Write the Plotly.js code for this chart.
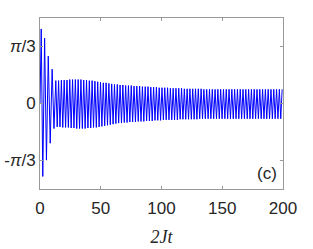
<!DOCTYPE html>
<html>
<head>
<meta charset="utf-8">
<script src="https://cdn.plot.ly/plotly-3.0.1.min.js"></script>
<style>html,body{margin:0;padding:0;background:#fff;}#chart{width:313px;height:249px;}</style>
</head>
<body>
<div id="chart"></div>
<script>
// time (2Jt) at the turning points of the oscillation
const timeHead = [0, 1.0, 2.3, 3.8, 5.3, 6.8, 8.4, 10.0, 11.5];
const valueHead = [0, 1.37, -1.34, 1.20, -1.04, 0.87, -0.73, 0.63, -0.46];

const timeTail = [
 13.00,14.15,15.30,16.45,17.60,18.75,19.90,21.05,22.20,23.35,
 24.50,25.65,26.80,27.95,29.10,30.25,31.40,32.55,33.70,34.85,
 36.00,37.15,38.30,39.45,40.60,41.75,42.90,44.05,45.20,46.35,
 47.50,48.65,49.80,50.95,52.10,53.25,54.40,55.55,56.70,57.85,
 59.00,60.15,61.30,62.45,63.60,64.75,65.90,67.05,68.20,69.35,
 70.50,71.65,72.80,73.95,75.10,76.25,77.40,78.55,79.70,80.85,
 82.00,83.15,84.30,85.45,86.60,87.75,88.90,90.05,91.20,92.35,
 93.50,94.65,95.80,96.95,98.10,99.25,100.40,101.55,102.70,103.85,
 105.00,106.15,107.30,108.45,109.60,110.75,111.90,113.05,114.20,115.35,
 116.50,117.65,118.80,119.95,121.10,122.25,123.40,124.55,125.70,126.85,
 128.00,129.15,130.30,131.45,132.60,133.75,134.90,136.05,137.20,138.35,
 139.50,140.65,141.80,142.95,144.10,145.25,146.40,147.55,148.70,149.85,
 151.00,152.15,153.30,154.45,155.60,156.75,157.90,159.05,160.20,161.35,
 162.50,163.65,164.80,165.95,167.10,168.25,169.40,170.55,171.70,172.85,
 174.00,175.15,176.30,177.45,178.60,179.75,180.90,182.05,183.20,184.35,
 185.50,186.65,187.80,188.95,190.10,191.25,192.40,193.55,194.70,195.85,
 197.00,198.15,199.30
];
const valueTail = [
 0.42,-0.43,0.42,-0.43,0.43,-0.44,0.43,-0.44,0.43,-0.44,
 0.44,-0.45,0.44,-0.45,0.44,-0.46,0.44,-0.46,0.44,-0.46,
 0.43,-0.46,0.43,-0.45,0.42,-0.45,0.42,-0.44,0.41,-0.44,
 0.40,-0.43,0.39,-0.42,0.38,-0.41,0.38,-0.40,0.37,-0.39,
 0.36,-0.38,0.35,-0.37,0.35,-0.36,0.34,-0.36,0.34,-0.35,
 0.33,-0.35,0.33,-0.34,0.33,-0.34,0.32,-0.34,0.32,-0.33,
 0.32,-0.33,0.31,-0.33,0.31,-0.32,0.31,-0.32,0.30,-0.32,
 0.30,-0.31,0.30,-0.31,0.29,-0.31,0.29,-0.30,0.29,-0.30,
 0.29,-0.30,0.28,-0.30,0.28,-0.30,0.28,-0.30,0.28,-0.29,
 0.28,-0.29,0.27,-0.29,0.27,-0.29,0.27,-0.29,0.27,-0.29,
 0.27,-0.29,0.27,-0.28,0.27,-0.28,0.26,-0.28,0.26,-0.28,
 0.26,-0.28,0.26,-0.28,0.26,-0.28,0.26,-0.28,0.26,-0.28,
 0.26,-0.28,0.26,-0.28,0.26,-0.28,0.26,-0.28,0.26,-0.28,
 0.26,-0.28,0.26,-0.28,0.26,-0.28,0.26,-0.28,0.26,-0.28,
 0.26,-0.28,0.26,-0.28,0.26,-0.28,0.26,-0.28,0.26,-0.28,
 0.26,-0.28,0.26,-0.28,0.26,-0.28,0.26,-0.28,0.26,-0.28,
 0.26,-0.28,0.26
];

const xTicks = [0, 50, 100, 150, 200];
const yTickVals = [-Math.PI/3, 0, Math.PI/3];
const yTickText = ['-<i>π</i>/3', '0', '<i>π</i>/3'];
const panelLabel = '(c)';
const xLabel = '<i>2Jt</i>';

const t = timeHead.concat(timeTail);
const v = valueHead.concat(valueTail);

const tickFont = {family: '"Liberation Sans Narrow", "Liberation Sans", sans-serif', size: 17, color: '#262626'};

Plotly.newPlot('chart', [{
  x: t, y: v, type: 'scatter', mode: 'lines',
  line: {color: '#0000ff', width: 1}, hoverinfo: 'skip'
}], {
  width: 313, height: 249,
  margin: {l: 40, r: 30, t: 18, b: 60},
  paper_bgcolor: '#fff', plot_bgcolor: '#fff',
  showlegend: false,
  xaxis: {
    range: [0, 200], tickvals: xTicks, ticktext: xTicks.map(String),
    ticks: 'inside', ticklen: 3, tickcolor: '#999', mirror: 'ticks',
    showline: true, linecolor: '#999', linewidth: 1,
    showgrid: false, zeroline: false, tickfont: tickFont, ticklabelstandoff: 4,
    title: {text: xLabel, font: {family: '"Liberation Serif", serif', size: 18, color: '#262626'}, standoff: 12}
  },
  yaxis: {
    range: [-Math.PI/2, Math.PI/2], tickvals: yTickVals, ticktext: yTickText,
    ticks: 'inside', ticklen: 3, tickcolor: '#999', mirror: 'ticks',
    showline: true, linecolor: '#999', linewidth: 1,
    showgrid: false, zeroline: false, tickfont: tickFont
  },
  annotations: [{
    text: panelLabel, xref: 'paper', yref: 'paper', x: 0.985, y: 0.09,
    xanchor: 'right', yanchor: 'middle', showarrow: false, font: tickFont
  }]
}, {displayModeBar: false, staticPlot: true});
</script>
</body>
</html>
